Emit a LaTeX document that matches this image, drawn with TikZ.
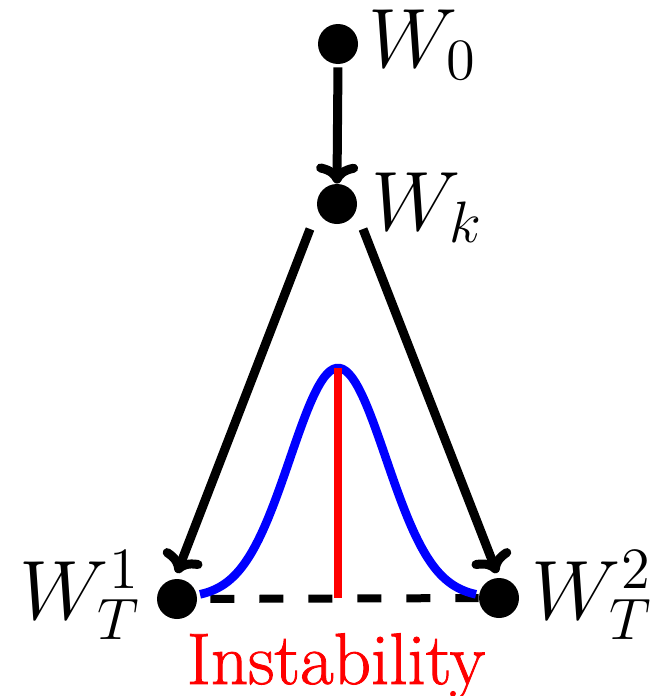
\documentclass[tikz,border=0pt]{standalone}
\usepackage{fontspec}
\newfontfamily\instfont{Latin Modern Roman}[FakeBold=1.2]
\usetikzlibrary{arrows.meta,calc}
\begin{document}
\begin{tikzpicture}[x=0.5pt,y=-0.5pt,
  dot/.style={circle,fill=black,inner sep=0pt,minimum size=20pt},
  lab/.style={anchor=base west,inner sep=0pt,font=\huge,scale=2.03,transform shape},
  arr/.style={line width=4.5pt,-{To[length=10pt,width=21pt]}},
  gauss/.style={blue,line width=4.3pt},
  peakline/.style={red,line width=4pt},
  baseline/.style={line width=4pt,dash pattern=on 12pt off 12.5pt,dash phase=18pt},
  insttext/.style={font=\instfont\fontsize{36.5}{40}\selectfont,text=red,anchor=base,inner sep=0pt},
]
\useasboundingbox (0,0) rectangle (670,696);
% dots
\node[dot] (w0) at (338,44) {};
\node[dot] (wk) at (337,204) {};
\node[dot] (w1) at (177,599) {};
\node[dot] (w2) at (499,598) {};
% labels
\node[lab] (l0) at (368,67) {$W_0$};
\node[lab] (lk) at (371,230) {$W_k$};
\node[lab] (l1) at (19,619) {$W_T^1$};
\node[lab] (l2) at (531,619) {$W_T^2$};
% dashed base
\draw[baseline] (w1) -- (w2);
% gaussian
\draw[gauss] plot[domain=200:476,samples=90,smooth] (\x,{598-230*exp(-0.5*((\x-338)/48)^2)});
% red line
\coordinate (peak) at (338,368);
\coordinate (foot) at (338,598);
\draw[peakline] (peak) -- (foot);
% arrows
\draw[arr,shorten <=1.5pt] (w0.south) -- (wk.north);
\draw[arr] ($(wk)+(-27,25)$) -- ($(w1)+(0,-26)$);
\draw[arr] ($(wk)+(26,25)$) -- ($(w2)+(-2,-25)$);
% text
\node[insttext] (inst) at (336,684) {Instability};
\end{tikzpicture}
\end{document}
